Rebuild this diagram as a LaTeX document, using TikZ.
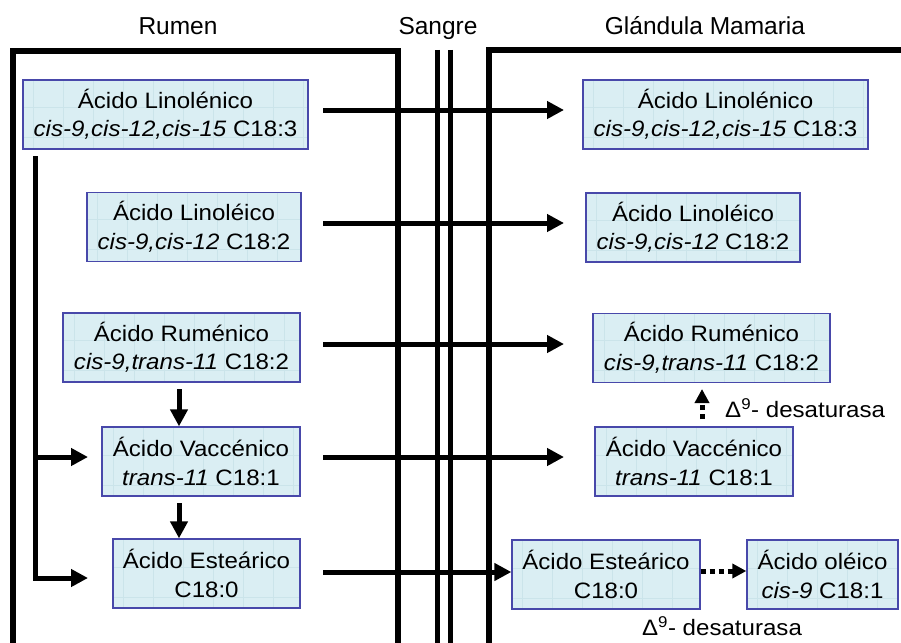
\documentclass[tikz,border=0pt]{standalone}
\usepackage{fontspec}
\setmainfont{Liberation Sans}
\newfontfamily\boxfont[FakeStretch=1.08]{Liberation Sans}
\usetikzlibrary{arrows.meta}
\definecolor{boxfill}{RGB}{218,238,243}
\definecolor{boxline}{RGB}{72,72,170}
\definecolor{gridc}{RGB}{203,228,234}
\begin{document}
\begin{tikzpicture}[x=1pt,y=-1pt,
  acid/.style={draw=boxline, fill=boxfill, line width=1.3pt, inner sep=0pt, align=center,
    font=\boxfont\fontsize{22.3}{28.5}\selectfont, minimum height=69pt,
    path picture={\draw[gridc, line width=0.6pt] (path picture bounding box.south west) grid[step=30pt] (path picture bounding box.north east);}},
  wall/.style={line width=5.5pt},
  blood/.style={line width=5pt},
  arr/.style={line width=5pt, -{Triangle[length=17pt,width=17pt]}},
  darr/.style={line width=5pt, dash pattern=on 5pt off 4pt, -{Triangle[length=14pt,width=14pt]}},
  head/.style={font=\fontsize{24.5}{28}\selectfont, anchor=base},
  lab/.style={font=\boxfont\fontsize{22.3}{26}\selectfont, inner sep=0pt}]
\useasboundingbox (0,0) rectangle (901,642);

% headings
\node[head] (hR) at (178,35) {Rumen};
\node[head] (hS) at (438,35) {Sangre};
\node[head] (hG) at (705,35) {Glándula Mamaria};

% compartments
\draw[wall] (13,645) -- (13,51) -- (398,51) -- (398,645);
\draw[wall] (489,645) -- (489,50) -- (905,50);
\draw[blood] (437,50) -- (437,645);
\draw[blood] (450,50) -- (450,645);

% left boxes (rumen)
\node[acid, minimum width=285pt] (L1) at (165.5,114.5) {Ácido Linolénico\\\textit{cis-9,cis-12,cis-15} C18:3};
\node[acid, minimum width=214pt] (L2) at (194,227) {Ácido Linoléico\\\textit{cis-9,cis-12} C18:2};
\node[acid, minimum width=237pt] (L3) at (181.5,347.5) {Ácido Ruménico\\\textit{cis-9,trans-11} C18:2};
\node[acid, minimum width=198pt] (L4) at (201,461.5) {Ácido Vaccénico\\\textit{trans-11} C18:1};
\node[acid, minimum width=187pt] (L5) at (206.5,573.5) {Ácido Esteárico\\C18:0};

% right boxes (mammary gland)
\node[acid, minimum width=285pt] (R1) at (725.5,114.5) {Ácido Linolénico\\\textit{cis-9,cis-12,cis-15} C18:3};
\node[acid, minimum width=214pt] (R2) at (693,227.5) {Ácido Linoléico\\\textit{cis-9,cis-12} C18:2};
\node[acid, minimum width=237pt] (R3) at (711.5,348) {Ácido Ruménico\\\textit{cis-9,trans-11} C18:2};
\node[acid, minimum width=198pt] (R4) at (694,461.5) {Ácido Vaccénico\\\textit{trans-11} C18:1};
\node[acid, minimum width=188pt] (R5) at (606,574.5) {Ácido Esteárico\\C18:0};
\node[acid, minimum width=151pt] (R6) at (822.5,574.5) {Ácido oléico\\\textit{cis-9} C18:1};

% transfer arrows
\coordinate (h1s) at (323,110); \coordinate (h1e) at (564,110);
\coordinate (h2s) at (323,223); \coordinate (h2e) at (564,223);
\coordinate (h3s) at (323,344); \coordinate (h3e) at (564,344);
\coordinate (h4s) at (323,457); \coordinate (h4e) at (564,457);
\coordinate (h5s) at (323,572);
\draw[arr] (h1s) -- (h1e);
\draw[arr] (h2s) -- (h2e);
\draw[arr] (h3s) -- (h3e);
\draw[arr] (h4s) -- (h4e);
\draw[arr] (h5s) -- (h5s -| R5.west);

% rumen biohydrogenation
\coordinate (d1s) at (179,389);
\coordinate (d2s) at (179,503);
\draw[arr] (d1s) -- (d1s |- L4.north);
\draw[arr] (d2s) -- (d2s |- L5.north);

\coordinate (fTop) at (35,156);
\coordinate (fMid) at (35,457);
\coordinate (fBot) at (35,578);
\coordinate (t4) at (88,457);
\coordinate (t5) at (88,578);
\draw[arr] (fTop) -- (fBot) -- (t5);
\draw[arr] (fMid) -- (t4);

% desaturase
\draw[darr] ([yshift=3.5pt]R5.east) -- ([yshift=3.5pt]R6.west);
\coordinate (u1) at (702,419);
\coordinate (u2) at (702,389);
\draw[darr] (u1) -- (u2);
\node[lab, anchor=base west] (dl1) at (725,417) {Δ\textsuperscript{9}- desaturasa};
\node[lab, anchor=base] (dl2) at (722,635) {Δ\textsuperscript{9}- desaturasa};
\end{tikzpicture}
\end{document}
